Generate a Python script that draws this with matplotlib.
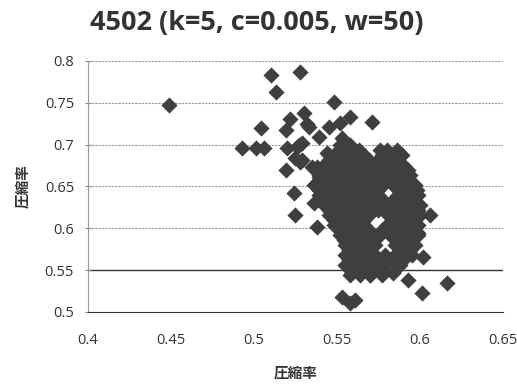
import numpy as np
import matplotlib.pyplot as plt

plt.rcParams['font.family'] = ['Open Sans', 'Noto Sans CJK JP', 'DejaVu Sans']

title = "4502 (k=5, c=0.005, w=50)"
x_label = "圧縮率"
y_label = "圧縮率"

# scattered points around the main cluster
outer_x = [0.449, 0.510, 0.528, 0.513, 0.548, 0.504, 0.493, 0.501, 0.506, 0.519,
           0.522, 0.530, 0.532, 0.539, 0.545, 0.552, 0.558, 0.571, 0.553, 0.520,
           0.526, 0.529, 0.519, 0.524, 0.525, 0.538, 0.538, 0.544, 0.606, 0.602,
           0.616, 0.601, 0.593, 0.584, 0.553, 0.558, 0.561, 0.533, 0.527, 0.525,
           0.535, 0.539, 0.545, 0.529, 0.576, 0.582, 0.586, 0.596, 0.528, 0.536,
           0.599, 0.559, 0.570]
outer_y = [0.747, 0.783, 0.787, 0.763, 0.751, 0.720, 0.696, 0.696, 0.696, 0.717,
           0.731, 0.738, 0.724, 0.709, 0.721, 0.726, 0.733, 0.727, 0.708, 0.696,
           0.697, 0.682, 0.670, 0.642, 0.616, 0.602, 0.673, 0.690, 0.616, 0.566,
           0.535, 0.523, 0.538, 0.547, 0.518, 0.510, 0.514, 0.721, 0.700, 0.684,
           0.673, 0.661, 0.688, 0.702, 0.694, 0.685, 0.682, 0.648, 0.679, 0.630,
           0.594, 0.548, 0.544]

# dense core, read row by row
core_rows = {
    0.700: [0.552, 0.558],
    0.694: [0.551, 0.557, 0.563, 0.580, 0.586],
    0.688: [0.548, 0.554, 0.560, 0.566, 0.577, 0.583, 0.589],
    0.682: [0.545, 0.551, 0.557, 0.563, 0.569, 0.575, 0.581, 0.587],
    0.676: [0.542, 0.548, 0.554, 0.560, 0.566, 0.572, 0.578, 0.584, 0.590],
    0.670: [0.541, 0.547, 0.553, 0.559, 0.565, 0.571, 0.577, 0.583, 0.589, 0.593],
    0.664: [0.539, 0.545, 0.551, 0.557, 0.563, 0.569, 0.575, 0.581, 0.587, 0.594],
    0.658: [0.539, 0.545, 0.551, 0.557, 0.563, 0.569, 0.575, 0.581, 0.587, 0.593],
    0.652: [0.536, 0.542, 0.548, 0.554, 0.560, 0.566, 0.572, 0.578, 0.584, 0.590, 0.597],
    0.646: [0.539, 0.545, 0.551, 0.557, 0.563, 0.569, 0.575, 0.587, 0.593, 0.598],
    0.640: [0.539, 0.545, 0.551, 0.557, 0.563, 0.569, 0.575, 0.587, 0.593, 0.599],
    0.634: [0.542, 0.548, 0.554, 0.560, 0.566, 0.572, 0.578, 0.584, 0.590, 0.596],
    0.628: [0.542, 0.548, 0.554, 0.560, 0.566, 0.572, 0.578, 0.584, 0.590, 0.596, 0.600],
    0.622: [0.545, 0.551, 0.557, 0.563, 0.569, 0.575, 0.587, 0.593, 0.599],
    0.616: [0.545, 0.551, 0.557, 0.563, 0.569, 0.581, 0.587, 0.593, 0.600],
    0.610: [0.548, 0.554, 0.560, 0.566, 0.584, 0.590, 0.596],
    0.604: [0.548, 0.554, 0.560, 0.566, 0.580, 0.586, 0.592, 0.599],
    0.598: [0.551, 0.557, 0.563, 0.569, 0.577, 0.583, 0.589, 0.595],
    0.592: [0.552, 0.558, 0.564, 0.570, 0.576, 0.582, 0.588, 0.594, 0.599],
    0.586: [0.554, 0.560, 0.566, 0.572, 0.588, 0.594],
    0.580: [0.555, 0.561, 0.567, 0.573, 0.585, 0.591, 0.597],
    0.574: [0.557, 0.563, 0.569, 0.588, 0.594],
    0.568: [0.555, 0.561, 0.567, 0.573, 0.579, 0.585, 0.591, 0.595],
    0.562: [0.557, 0.563, 0.569, 0.575, 0.582, 0.590],
    0.556: [0.555, 0.561, 0.567, 0.573, 0.579, 0.588],
    0.550: [0.560, 0.566, 0.572],
    0.544: [0.558, 0.564, 0.570, 0.577],
}

core_x = [x for y, xs in core_rows.items() for x in xs]
core_y = [y for y, xs in core_rows.items() for x in xs]

xs = outer_x + core_x
ys = outer_y + core_y

fig = plt.figure(figsize=(5.17, 3.85), dpi=100)
ax = fig.add_axes([0.170, 0.190, 0.803, 0.652])

ax.scatter(xs, ys, marker='D', s=68, color='#3f3f3f', linewidths=0, zorder=3)

ax.set_xlim(0.4, 0.65)
ax.set_ylim(0.5, 0.8)
ax.set_xticks([0.4, 0.45, 0.5, 0.55, 0.6, 0.65])
ax.set_xticklabels(['0.4', '0.45', '0.5', '0.55', '0.6', '0.65'])
ax.set_yticks([0.5, 0.55, 0.6, 0.65, 0.7, 0.75, 0.8])
ax.set_yticklabels(['0.5', '0.55', '0.6', '0.65', '0.7', '0.75', '0.8'])

for yv in [0.6, 0.65, 0.7, 0.75, 0.8]:
    ax.axhline(yv, color='#9a9a9a', lw=0.8, ls=(0, (2, 1)), zorder=1)
ax.axhline(0.55, color='#333333', lw=1.0, zorder=1)

for s in ['top', 'right']:
    ax.spines[s].set_visible(False)
ax.spines['bottom'].set_color('#333333')
ax.spines['left'].set_color('#999999')
ax.spines['left'].set_linestyle((0, (2, 1)))

ax.tick_params(axis='x', length=0, pad=15.5, labelsize=10.5, labelcolor='#333333')
ax.tick_params(axis='y', length=4, direction='inout', color='#888888',
               pad=8, labelsize=10.5, labelcolor='#333333')

# title sits centred on the whole figure, not the axes
fig.text(0.497, 0.94, title, ha='center', va='center', fontsize=19.5,
         fontweight='bold', color='#333333')
ax.set_xlabel(x_label, fontsize=10.5, fontweight='bold', color='#333333',
              family=['Noto Sans CJK JP'], labelpad=12)
ax.set_ylabel(y_label, fontsize=10.5, fontweight='bold', color='#333333',
              family=['Noto Sans CJK JP'], labelpad=10)

fig.savefig('out.png', dpi=100)
